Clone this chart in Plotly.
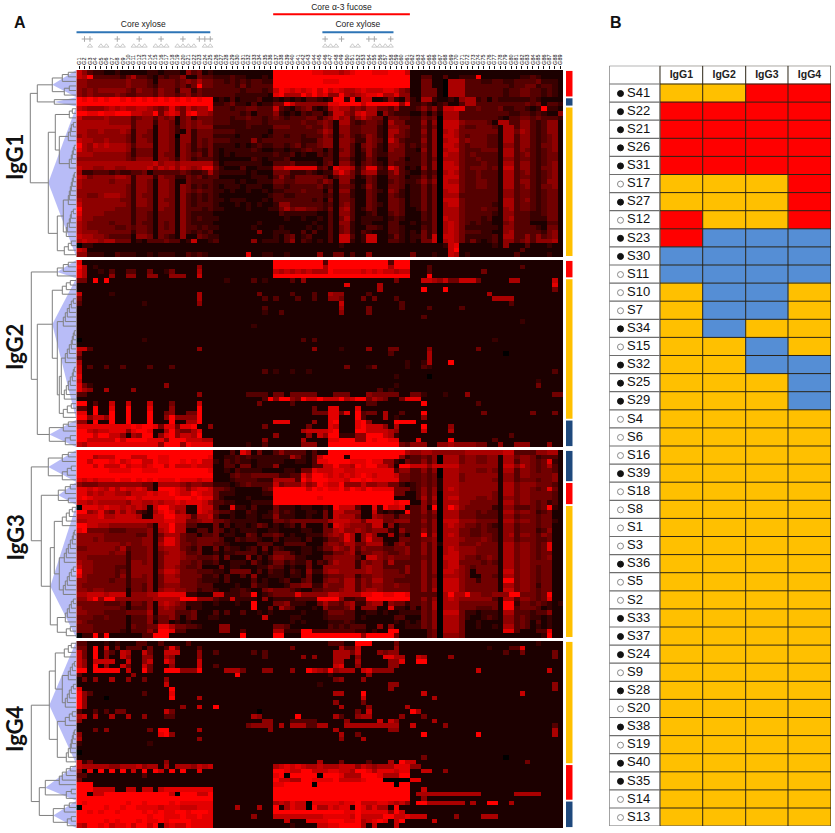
import plotly.graph_objects as go

LEAF = 0
def P(h, a, b, shade=False):
    return (h, a, b, shade)
def L(*hs, shade=False):
    n = LEAF
    for h in hs:
        n = (h, n, LEAF, False)
    return n

panel_names = ["IgG1", "IgG2", "IgG3", "IgG4"]
tick_labels = [f"G{i}" for i in range(1, 90)]

# digit = signal level 0 (black) to 9 (pure red); segments: 25 / 11 / 25 / 28 columns
igg1 = """
75322 11211 11122 12221 53412 11111111111 99999 99887 77678 99988 89997 11111 11111 11111 11111 11111 111
76933 33324 63321 32335 11433 22232211121 99999 99999 99999 99999 99999 11331 13112 22911 11111 22321 111
55444 44445 44431 44434 54644 33232323322 99999 99998 88999 99999 99999 11441 10666 33322 33223 33342 221
55444 44445 44432 44434 24944 33332423333 99999 99999 99999 99999 99999 11441 10666 33333 33323 34423 321
54545 55554 35443 54425 52433 33333233323 79878 78979 78766 78777 88754 11444 10666 33333 33233 44332 321
54544 44543 34443 54434 53433 33332222221 89666 97978 55965 67889 66855 11444 10666 33333 33233 44332 321
98989 89989 89898 98989 89899 12131222311 21212 13321 29929 17711 25215 21662 11215 66231 32222 22321 111
99999 99999 99999 99999 99999 22342213122 44975 55555 88999 97999 99959 22321 23113 66333 33333 34341 332
76555 67676 67765 45854 75669 33323344333 73213 45212 67664 54664 43522 23535 27788 33433 34223 32129 221
99889 88999 77669 47874 89665 33333231333 52121 32331 37754 78661 53222 11313 16663 33333 33322 33232 115
75555 65555 34553 54514 52444 33323343323 43233 34424 57563 57544 14433 22434 06663 33333 32133 44343 332
66666 65555 35552 55414 54544 33322233323 33333 43345 41663 23443 16442 22525 07775 44443 16633 55323 551
66666 66666 35551 55424 54555 22222232222 44433 34335 41553 34442 15544 22424 07774 33444 31663 55323 551
66556 55565 25541 55421 52444 33332222221 33333 33346 51553 34442 16643 22525 06764 44444 41664 65323 551
56555 55554 25441 55405 52444 22221222212 33233 23335 41453 23542 16443 22425 07764 34443 31663 55323 451
76655 65554 25541 55415 52434 33322225233 33333 22245 51554 22543 17532 22525 06774 54443 31663 55323 451
96576 76665 35551 55415 42434 22221212322 33234 23345 51553 14542 15542 32425 07764 34443 31553 55324 451
86566 66665 24441 55415 42324 21222223211 22122 34331 31453 13532 15442 21525 06774 33344 41663 54323 451
66655 55554 24441 54415 43424 21212222222 32231 21132 31553 12532 24442 22425 07664 34333 31663 45323 441
55555 55554 35551 55425 42333 21111113212 22311 11113 31442 12431 14431 22424 06664 33433 31553 44323 441
66666 66666 66667 56656 66666 31222222211 33342 22213 41553 13432 14332 22425 07764 33343 31663 55323 451
76655 66556 66675 76757 65688 42111311222 66888 88834 18776 24883 28631 21525 07774 34443 41773 55324 451
62233 32322 33413 33334 32236 32222212111 44422 23212 26864 25662 24632 11323 06764 33433 31663 45323 451
76455 55665 25552 54422 43423 31111112221 35324 44443 13554 12431 14431 22424 07774 33433 31663 44323 451
65555 54555 25541 55411 43333 22221211222 44334 44435 41552 11431 13432 23535 07664 33443 31663 55323 551
65555 55554 25541 55415 42323 21222122211 33233 33342 31443 12531 14431 22424 07774 33443 31663 45324 451
55555 55554 25541 55415 43433 22121121121 22333 43331 41552 11432 15421 22424 06774 33333 31553 44323 441
55445 66654 25441 55415 32323 21111111112 33223 33332 31442 11431 14321 22424 06663 33333 31553 44323 441
65555 55544 25541 54415 32323 22122211121 33333 33231 41443 11431 14431 22424 07774 33333 31663 45323 441
75555 55554 25541 55415 32333 21112121211 25533 33332 31453 11432 14431 22424 06774 33333 21663 44323 441
95555 55444 24441 54415 33323 22111121112 24645 54432 41563 12431 14431 12424 06664 33343 31563 44323 441
85555 44444 24431 44415 32222 11111111111 13222 22211 31553 11231 13431 11324 06664 33333 21553 33223 441
75544 44444 24431 44415 32322 21111111111 11211 21121 31463 12222 12321 11324 07664 33323 11563 33222 441
65444 43444 24331 43415 32222 11111111211 11111 11211 31552 12211 13311 21224 06764 32322 11453 33111 331
65444 44334 34431 43415 33232 21111112111 12111 12121 31452 11332 13321 11324 06764 22222 21553 33321 441
65554 44444 24431 44415 32323 11111111511 22211 31311 31452 13211 13321 21424 06764 33322 11563 33332 451
76655 43333 15541 43215 11432 21111111111 21341 23111 31773 12771 12421 22427 07764 22222 31663 35353 451
67665 66444 12133 34331 27112 31111115122 21351 32121 31772 12771 13321 21447 06764 24212 31553 45355 561
02211 11111 11111 11111 11111 11111111111 11111 11111 11211 11111 11111 11111 12781 11111 21511 13111 211
76111 11111 11111 11111 11111 11111111111 11111 11111 11111 11111 11111 11111 11791 11111 11111 31111 111
55222 11322 21121 22211 32321 11111181122 11211 11151 14413 11511 11111 41112 11761 21111 11113 11111 211
"""

igg2 = """
81111 11111 11111 11111 11111 11111111111 99999 99993 99999 99999 93999 11111 11111 11111 11111 11111 111
96121 11111 11111 11111 11511 11111111111 99999 99996 99999 99999 96999 11131 11111 11111 11111 31111 111
86112 13113 31141 12411 11611 11111111111 76767 67666 98888 87878 77677 11131 11111 11141 11111 11111 111
86111 15115 51155 11555 11711 11111111111 99999 99999 99999 99999 99999 11191 11111 11111 11111 11111 111
44191 91111 11111 11111 11111 11211113121 11131 51111 11111 11111 11411 11776 57447 77411 11166 11111 171
11111 11111 11111 11111 11111 11111111111 11111 11111 11181 11116 11111 11111 11111 11111 11111 11111 181
11111 11111 11111 11111 11111 11111111111 11111 11111 11111 11116 11111 11911 19111 11111 11111 11111 141
71111 12111 11111 11111 11611 11111111411 11131 11311 65511 11311 11111 11111 11111 11116 11111 11111 111
41111 11111 11111 11111 11611 11111111131 31113 11311 55411 14141 11311 11111 11111 11111 66661 11111 111
31111 11111 11211 11111 11511 11111111111 11111 11111 11711 11111 11131 11111 11111 11111 11131 11111 111
11111 11111 11111 11111 11111 11111111131 11111 11111 11611 11411 11131 11131 11113 11111 11111 11111 111
11111 11111 11111 11111 11111 11111111121 13111 11111 11511 11411 11111 11111 11111 11111 11111 11111 111
11111 11111 11111 11111 11111 11111111111 11111 11111 11111 11111 11111 11311 11111 11111 11111 11111 111
11111 11111 11111 11111 11111 11111111111 11111 11111 11111 11111 11111 11111 11111 11111 11111 21111 111
11111 11111 11111 11111 11111 11111112111 11111 11111 11111 11111 11111 11111 11111 11111 11111 11111 111
11111 11111 11111 11111 11111 11111111111 11111 11111 11111 11111 11111 11111 11111 11111 11111 11111 111
11111 11111 11111 11111 11111 11111111111 11111 11111 11111 11111 11111 11111 11111 11111 11111 11111 111
01111 11111 11211 11111 11111 11111111111 11111 31311 11111 11111 11111 11111 11111 11111 21111 11111 111
11111 11111 11111 11111 11111 11111111111 11111 11111 11111 11111 11111 11111 11111 11111 11111 11111 111
77311 11111 11111 11111 11511 11111111111 11111 11511 11211 11511 14411 11151 11111 11411 11111 11111 111
51111 11111 11111 11111 11111 11111111111 11111 11111 11111 11111 13111 11161 11111 11111 11011 11111 111
31111 11111 11111 11111 11111 11111111111 11111 11111 11111 11111 11111 11161 11111 11111 11111 11111 111
61111 11111 11111 11111 11111 11111111111 11111 11111 11111 11111 11112 11261 11911 11111 11111 11111 111
71311 31131 11131 11311 11111 11111111111 11111 11111 11141 11241 11112 11321 11111 11111 11111 11111 111
71111 11111 11111 11111 11111 11111111131 21121 12111 11111 11111 11111 11111 11111 11111 11111 11111 131
81111 11111 11111 11111 11111 11111111111 11111 11111 11111 11111 11211 11101 11111 11111 11111 11111 111
71111 11111 11111 11111 11111 11111111111 11111 11111 11111 11111 11111 11111 11111 11111 11111 11121 111
84211 11111 11111 15111 11111 11111111111 11111 11111 11111 11111 11211 11111 11111 11111 11111 11141 111
86511 61111 51111 11111 11111 11111111111 11111 11111 11111 11113 12111 11111 11111 11111 11111 11111 111
33111 11111 11111 11111 11511 11111133331 44144 44411 14441 11544 44411 44211 12111 51111 11111 11111 144
11111 11111 11111 11111 11111 11111111139 59954 97797 77967 99465 41148 88111 11111 11111 11111 11111 111
99131 17117 11171 11411 11711 11111111411 11131 11111 11111 11331 11111 11911 11111 11311 11111 11111 111
33191 18119 11181 11511 11911 11111111111 11111 11411 88111 81111 11111 11111 11111 11111 11111 11111 111
88191 19119 11191 14511 44911 11111111111 11111 11444 88481 93441 61131 11911 11111 11141 11111 11411 141
99577 59119 11191 15955 55911 11111111111 11111 11111 88111 93111 61211 11511 11111 11111 11111 11111 111
55191 19119 11191 11911 66911 11111111111 88811 11511 89111 89511 11999 91111 11111 11111 11111 11111 111
88888 88888 98998 48848 89115 11111111141 11111 14111 87111 89777 51611 11911 11511 11111 11111 11111 111
99767 78885 89981 16954 46811 11111111111 11111 67777 89111 99777 76511 11711 11611 11111 11111 11111 111
99979 97751 65991 58957 76911 11111111111 51111 15175 99222 55999 76211 11111 11111 11111 11131 11111 111
99777 77979 99988 85999 77766 11111111151 11111 61111 88999 55989 98811 18111 11911 11111 31111 11111 111
76888 88888 88888 59995 98888 11111121131 11111 55511 99999 99999 99943 55511 55655 55441 15115 55111 511
"""

igg3 = """
99999 99999 99999 99999 99999 11131861411 35333 31311 99999 99999 99996 55665 55555 66666 66773 33355 661
99967 77999 77799 88999 99998 11223232222 22264 21379 99919 99999 99952 33435 06664 55445 51664 55423 331
99799 98978 99779 88998 98977 21323221222 22112 21388 99998 88988 55214 33535 06664 55445 51663 55434 821
99979 77797 88789 97977 78777 11331441222 51111 11337 79776 98997 75199 77757 77775 55555 51775 75434 631
99999 98888 99888 99999 99998 11213222211 11221 44877 78877 88888 88355 33535 06665 55445 41663 55434 431
99999 99999 99999 99999 99999 11134334444 42233 86998 78787 89878 88744 33434 06664 55555 51553 55444 451
87878 88988 98989 88898 88788 11123333222 66663 97999 88879 98988 88844 33434 16664 55555 41553 44434 451
54445 55555 55441 66665 45544 22212343333 74555 75698 77955 57556 64421 23434 16665 55555 51664 55544 431
88787 68687 78741 99987 57887 44321111134 99999 97989 88979 87988 88444 23535 16765 55555 51664 55434 841
88676 77665 77787 88987 79877 42221111122 99999 99999 99999 99999 99441 13535 06665 55555 41664 55444 431
89877 77778 87888 88899 98988 42111121111 99999 99989 99999 99999 99111 13636 06775 55445 41554 55444 431
77676 66665 77667 67787 88875 33221112222 99999 99999 99999 99999 99899 11535 06665 54444 41664 55434 231
08887 87767 67617 99766 11877 31182213111 42221 22112 19777 31182 97781 33519 06975 44444 21553 33434 921
99568 54757 63216 89856 11876 43321132112 42321 12214 17755 51172 12119 33535 06664 44343 31664 55423 411
77778 66777 76117 79977 63667 31121122122 52221 12114 17666 41165 44244 33434 06664 44333 31553 44434 411
66777 77777 77777 78877 44566 44322222111 44344 44444 67776 64777 44555 33535 07775 55444 41664 55434 421
99776 65555 55541 77966 33111 41312212431 21231 41114 18765 55477 15133 33435 06765 44343 21553 44434 411
89444 43334 44451 67966 11331 43121222112 21111 22114 46755 65455 52153 33535 06664 43343 31553 44423 511
55555 44444 43351 46664 33133 41221143133 43121 12224 56586 15751 16131 33936 06764 43344 31563 55435 411
55545 44444 44551 58864 33444 43113233211 31222 13112 44586 15855 11144 33445 06665 44454 31553 44433 411
55555 55545 44551 68864 43444 33211111333 11333 31114 55466 44666 21453 33535 16664 44544 41664 55434 811
44555 55463 44451 56664 32411 41322123141 32111 22124 46546 35444 33445 33535 06765 55444 41664 55434 811
55555 54552 44451 45665 33411 21223333121 44421 22112 24456 24455 43345 33535 06775 55444 41664 55434 411
55444 44442 44451 46665 44333 41411151313 55442 21114 45555 31775 45444 33435 07775 44345 41664 55434 511
65544 44442 55451 46664 43422 31122214212 44232 24132 46555 25455 36333 33535 06774 44434 31664 55444 411
75544 44332 55551 46654 33411 14122111224 33121 14115 55555 25655 33335 33535 06775 43444 41664 55434 411
95544 44342 55551 57764 44333 22144441313 22132 15225 66555 55655 44435 33535 07765 41444 41774 55434 411
85444 44352 55451 46654 44422 31311315112 22122 14113 44455 24455 44443 33534 06665 41144 31664 55434 411
55444 43442 44451 46664 44322 21311113121 12311 34114 55466 35466 44333 33535 07775 44244 41994 55434 411
54444 44442 44351 45554 44333 11112114221 11244 55225 44466 35455 44544 33535 07775 44444 41664 55424 411
55455 44441 44351 56655 44233 21122321145 44432 11334 44566 35665 44444 33536 07775 44444 41774 55434 411
66777 67771 55566 88888 22111 77222339123 44448 55555 77666 68899 88998 33333 06966 95544 55599 44434 911
55795 99555 55556 66669 99555 32272222151 22223 33399 99522 33999 99999 33535 06765 55555 31663 55434 811
44444 33341 44351 67654 22211 21112119111 44522 21146 44356 22566 15442 33436 06664 44444 41992 44343 212
54444 44431 33351 56544 12211 11111119114 16431 11215 33346 15551 18221 31436 06664 44333 41993 44431 211
55444 33334 44461 55533 34111 31311311212 11111 21112 44433 11221 21122 22435 07774 22122 21663 33233 511
44433 43331 33352 44531 34112 21111111171 11122 11112 33333 12111 11331 11435 06664 21123 21553 43221 211
54333 33331 33351 44121 21111 11111111111 11121 21111 22232 11111 11212 12435 06664 11211 11553 43131 211
44433 33331 43344 88644 33211 15511111111 44311 11111 32323 33115 15112 22435 06664 11211 21663 43121 211
44433 33321 33353 99833 11111 15511311111 66222 99333 33333 22121 19911 11134 06664 11111 11883 11133 811
02292 91111 11339 99111 11111 11111911111 99111 99999 99999 95999 99411 11134 05554 11111 11111 11112 911
"""

igg4 = """
33111 21211 13311 31111 31111 11111111111 11111 11111 33311 99911 11411 11111 11111 11111 11111 11121 111
44191 71413 33141 13841 11311 11111111111 11141 11111 11633 71111 11511 11111 11111 11112 11133 81111 111
74191 53176 11741 17771 11511 31111113131 11111 11111 16664 71115 45511 11111 11111 11111 11311 41111 141
74191 51175 11551 16511 11511 11111111131 11111 51511 16661 51111 88661 17611 11511 11111 11111 11111 141
75177 77117 11571 18611 11711 11111111111 11111 11111 16611 61111 15581 19911 11111 11111 11111 11111 111
75191 51174 11741 11511 11711 31111111111 11111 11111 17811 51111 15511 11111 11111 11111 11111 11111 111
99199 99917 11941 19995 55911 11666411155 11151 19765 95666 17855 55111 11111 11111 11711 11111 11111 711
31111 11111 51111 11111 11111 11119111111 11111 11111 21111 11511 11111 11111 11111 11111 11111 11111 111
14151 16115 11411 15111 11111 11111111111 11111 11111 14511 15111 11111 11111 11111 11111 11111 11111 111
11111 11111 11111 17111 11111 11111111111 11111 11121 11111 11111 15511 11111 11111 11111 11111 11111 151
81111 11111 11111 11911 11111 11111111111 11111 11111 11111 11111 15111 11111 11111 11111 11111 11111 151
95311 11111 11311 11811 11111 11111111111 11111 11111 16611 19111 11111 11711 11111 11111 11111 71111 111
95111 01111 11111 11911 11611 11111111111 11111 11111 11111 17111 11111 11116 11111 11111 11111 11111 111
95111 11111 11111 11111 11111 11111111111 11111 11111 15111 14111 11111 11111 11111 11111 11111 11111 111
95111 11111 11111 11115 11711 91111111111 11111 11111 11611 11511 11116 11111 11111 11111 11111 11111 111
31131 31441 11111 17411 11111 11111111011 11111 11111 11111 41711 11111 96111 11111 11111 11111 11111 111
67161 16116 11511 13311 11111 11111116511 11119 11111 16311 56611 11151 11411 11111 11111 11111 11111 111
51111 11111 11111 11111 11111 11111111155 11133 33311 11151 11117 17511 11116 11111 11111 11111 11111 111
11111 11111 11111 11111 11111 11111145555 16166 63366 11166 66666 66611 71111 15111 11111 11111 11111 131
11141 51111 11141 99111 11611 11111111115 11111 11111 16111 11111 15511 11111 11111 11111 11111 11111 161
51111 11111 11111 89511 11111 11111111111 11111 11111 11611 41111 11111 11911 11111 11911 11111 11111 161
61111 11111 11111 11111 11511 11111111111 11111 11111 11511 16111 11111 11111 11111 11111 11111 11111 111
21111 11111 11121 11111 11111 11111111111 11111 11111 11111 11111 11111 11111 11111 11111 11111 11111 111
11111 11111 11111 11111 11111 11111111111 11111 11111 11111 11111 11111 11111 11111 11111 11111 11111 111
01111 11111 11111 11111 11111 11111111111 11111 11111 11111 11111 11111 11111 11111 11111 11111 11111 111
11111 11111 11111 11111 11111 11111111111 11111 11111 11111 11111 11111 11411 11111 11111 11011 11111 111
72411 11111 11111 15111 11111 11111111111 11111 11161 11411 11311 16197 71111 11111 11111 11111 14111 111
76666 65566 67566 16166 65767 11111111111 67878 76676 66777 57656 66888 55111 11111 11111 11111 11111 111
50809 19191 71919 71919 11811 11111111111 99877 99777 88776 99868 88788 11771 15111 11111 11111 11111 111
33111 11111 11311 11111 11111 11111111111 89099 99909 99866 69998 66699 11111 11111 11111 11111 11111 111
41111 11111 11111 11111 11111 11111111111 97766 99888 89777 78999 00000 88111 11111 11111 11111 11111 111
99911 11111 11111 11111 11111 11111111111 88999 99099 99999 99999 99099 11111 11111 11111 11111 11111 111
99977 77117 71771 78888 88888 11111111111 99999 99999 99999 99999 99999 11711 11111 11111 11111 11111 111
99177 99999 99999 99709 99779 11111111111 99999 99999 99999 99999 99999 16666 66666 66611 11116 66661 111
99999 99999 99999 99999 99999 11111111111 99999 99999 99999 99999 99999 11511 11111 11111 11111 11111 111
98999 99998 99899 99898 88888 11111111111 67687 70888 88788 97778 87675 19966 66666 16119 91161 11111 111
09999 89989 98888 78887 77888 11116111611 91687 70966 87881 98686 61911 11111 11111 11111 11111 11111 111
99898 99899 99898 98899 89998 11111111111 99999 99999 99988 98888 85971 11111 11111 11111 11111 11111 111
99999 99999 99989 98889 88988 11111115111 77777 77778 88887 97777 99778 77711 11151 11166 61111 11111 111
99999 89899 98988 98999 98888 11111111111 11711 18888 99988 96789 81791 11117 11111 11111 11111 11111 111
76998 97889 79979 17877 98888 11111111111 11121 11177 88999 96171 11711 11111 11111 11111 11111 11111 111
"""

group_sizes = {
    "IgG1": [("r", 6), ("b", 2), ("y", 33)],
    "IgG2": [("r", 4), ("y", 31), ("b", 6)],
    "IgG3": [("b", 7), ("r", 5), ("y", 29)],
    "IgG4": [("y", 27), ("r", 8), ("b", 6)],
}
group_colors = {"r": "#ff0000", "b": "#1f497d", "y": "#ffc000"}

dendro1 = P(46, P(39, P(24, L(8, 14), L(7, 12), True), P(22, LEAF, LEAF, True)),
            P(28, P(21, L(4, 7), P(17, L(3, 5, 6, 8), L(2, 3, 4, 5, 7))),
                  P(19, P(13, L(2, 3, 4, 5, 6, 7, 8), L(3, 5, 6, 7, 9, 10)), L(5, 8, 12)), True))
dendro2 = P(45, P(19, L(8, 13), LEAF, True),
            P(39, P(24, L(6, 10, 14),
                    P(19, L(3, 5, 7, 9, 11, 13),
                      P(17, P(15, L(2, 3, 4, 5, 7, 9, 11), L(2, 3, 4, 6, 8, 10, 12)), L(5, 9, 13))), True),
                  P(27, L(8, 13), L(6, 11), True)))
dendro3 = P(45, P(28, L(8, 14), L(5, 9, 14), True),
            P(35, P(18, L(6, 11), P(8, LEAF, LEAF), True),
                  P(26, P(22, L(4, 7, 10, 14),
                          P(17, L(2, 3, 4, 6, 8, 10, 12), L(3, 5, 7, 9, 11, 13))),
                        P(19, L(3, 5, 7, 9, 11), L(6, 10)), True)))
dendro4 = P(45, P(27, P(21, L(5, 8, 12), P(14, L(2, 4, 6, 8), L(3, 5, 7, 9, 11))),
                  P(19, L(4, 7, 11), L(2, 3, 4, 5, 6, 8, 10)), True),
            P(37, P(31, L(6, 10, 14, 17), L(5, 10), True),
                  P(23, L(7, 12), L(5, 9), True)))

xylose_plus = [1, 2, 7, 11, 15, 19, 22, 23, 24, 45, 48, 53, 54, 57]
xylose_tri = [2, 4, 5, 7, 8, 10, 11, 12, 14, 15, 16, 18, 19, 20, 21, 23, 24,
              45, 46, 47, 50, 51, 54, 55, 56, 57]
brackets = [("Core xylose", 0, 24, "#2e75b6", 32.3, 24.5),
            ("Core xylose", 45, 57.5, "#2e75b6", 32.3, 24.5),
            ("Core α-3 fucose", 36, 60.5, "#ff0000", 14.3, 7.5)]

samples = ["S41","S22","S21","S26","S31","S17","S27","S12","S23","S30","S11","S10","S7","S34",
           "S15","S32","S25","S29","S4","S6","S16","S39","S18","S8","S1","S3","S36","S5","S2",
           "S33","S37","S24","S9","S28","S20","S38","S19","S40","S35","S14","S13"]
filled = ["S41","S22","S21","S26","S31","S27","S23","S30","S34","S32","S25","S29","S39","S36",
          "S33","S37","S24","S28","S38","S40","S35"]
table_rows = ["YYRR","RRRR","RRRR","RRRR","RRRR","YYYR","YYYR","RYYR","RBBB","BBBB","BBBB","YBBY",
              "YBBY","YBYY","YYBY","YYBB","YYYB","YYYB"] + ["YYYY"] * 23

# ---------- geometry
W, H = 835, 833
hx0, hx1 = 76.3, 563
panel_y = [(70, 257), (260, 447), (450, 638), (641, 828)]
px = lambda a: a / W
py = lambda b: 1 - b / H

def parse(block):
    rows = []
    for line in block.strip().splitlines():
        s = line.replace(" ", "")
        s = s.ljust(89, s[-1])[:89]
        rows.append([int(c) for c in s])
    assert len(rows) == 41, len(rows)
    return rows

matrices = [parse(igg1), parse(igg2), parse(igg3), parse(igg4)]
dendros = [dendro1, dendro2, dendro3, dendro4]

fig = go.Figure()
layout = dict(width=W, height=H, margin=dict(l=0, r=0, t=0, b=0), showlegend=False,
              paper_bgcolor="white", plot_bgcolor="white")
shapes, annotations = [], []

def hidden(**k):
    return dict(visible=False, fixedrange=True, **k)

def walk(node, state, lines, shades):
    if node == LEAF:
        y = state["i"]
        state["i"] += 1
        return 0, y, y, y
    h, a, b, shade = node
    ha, ya, t1, _ = walk(a, state, lines, shades)
    hb, yb, _, b2 = walk(b, state, lines, shades)
    lines[0].extend([ha, h, h, hb, None])
    lines[1].extend([ya, ya, yb, yb, None])
    ym = (ya + yb) / 2
    if shade:
        shades.append((h, ym, t1 - .5, b2 + .5))
    return h, ym, t1, b2

for i, name in enumerate(panel_names):
    n = i + 1
    xa, ya = f"xaxis{n}", f"yaxis{n}"
    top, bot = panel_y[i]
    fig.add_trace(go.Heatmap(z=matrices[i], zmin=0, zmax=9,
                             colorscale=[[0, "#000000"], [1, "#ff0000"]], showscale=False,
                             xaxis=f"x{n}", yaxis=f"y{n}", hoverinfo="skip"))
    xopts = hidden(domain=[px(hx0), px(hx1)], range=[-.5, 88.5], anchor=f"y{n}")
    if i == 0:
        xopts.update(visible=True, side="top", tickmode="array", tickvals=list(range(89)),
                     ticktext=tick_labels, tickangle=-90, tickfont=dict(size=5.5, color="#000",
                     family="Liberation Sans"), ticks="outside", ticklen=3, tickcolor="#111",
                     showgrid=False, zeroline=False, showline=False)
    layout[xa] = xopts
    layout[ya] = hidden(domain=[py(bot), py(top)], range=[40.5, -.5], anchor=f"x{n}")
    # dendrogram on its own x axis, sharing the heatmap's row axis
    d = 10 + n
    layout[f"xaxis{d}"] = hidden(domain=[px(28.3), px(76.3)], range=[48, 0], anchor=f"y{n}")
    lines, shades = ([], []), []
    walk(dendros[i], {"i": 0}, lines, shades)
    for h, ym, a, b in shades:
        fig.add_trace(go.Scatter(x=[h, 0, 0, h], y=[ym, a, b, ym], mode="lines", fill="toself",
                                 fillcolor="rgba(85,95,235,0.42)", line=dict(width=0),
                                 xaxis=f"x{d}", yaxis=f"y{n}", hoverinfo="skip"))
    fig.add_trace(go.Scatter(x=lines[0], y=lines[1], mode="lines",
                             line=dict(color="#7f7f7f", width=1),
                             xaxis=f"x{d}", yaxis=f"y{n}", hoverinfo="skip"))
    # side bar on the heatmap's row axis
    r = 0
    for code, size in group_sizes[name]:
        shapes.append(dict(type="rect", xref="paper", yref=f"y{n}", x0=px(566), x1=px(572.5),
                           y0=r - .5 + .2, y1=r + size - .5 - .2, fillcolor=group_colors[code],
                           line=dict(width=0)))
        r += size
    annotations.append(dict(text=f"<b>{name}</b>", xref="paper", yref="paper", xanchor="center",
                            yanchor="middle", x=px(14.5), y=py((top + bot) / 2 - 6), showarrow=False,
                            textangle=-90, font=dict(size=22, family="Lato", color="#111")))

# top strip: markers and brackets
layout["xaxis21"] = hidden(domain=[px(hx0), px(hx1)], range=[-.5, 88.5], anchor="y21")
layout["yaxis21"] = hidden(domain=[py(50), 1], range=[50, 0], anchor="x21")
fig.add_trace(go.Scatter(x=xylose_plus, y=[39] * len(xylose_plus), mode="markers",
                         marker=dict(symbol="cross-thin", size=4, line=dict(color="#a8a8a8", width=1)),
                         xaxis="x21", yaxis="y21", hoverinfo="skip"))
fig.add_trace(go.Scatter(x=xylose_tri, y=[46] * len(xylose_tri), mode="markers",
                         marker=dict(symbol="triangle-up-open", size=4.5, color="#bdbdbd",
                                     line=dict(width=.8, color="#bdbdbd")),
                         xaxis="x21", yaxis="y21", hoverinfo="skip"))
for label, c0, c1, col, yl, yt in brackets:
    fig.add_trace(go.Scatter(x=[c0 - .5, c1], y=[yl, yl], mode="lines", line=dict(color=col, width=2),
                             xaxis="x21", yaxis="y21", hoverinfo="skip"))
    fig.add_trace(go.Scatter(x=[(c0 - .5 + c1) / 2], y=[yt], mode="text", text=[label],
                             textfont=dict(size=8.5, family="Liberation Sans", color="#222"),
                             xaxis="x21", yaxis="y21", hoverinfo="skip"))

# panel B table
col_edges = [609.3, 660, 702.7, 745.7, 788, 831]
row_edges = [65.7, 84] + [84 + 18.1 * k for k in range(1, 42)]
layout["xaxis22"] = hidden(domain=[px(col_edges[0]), px(col_edges[-1])],
                           range=[col_edges[0], col_edges[-1]], anchor="y22")
layout["yaxis22"] = hidden(domain=[py(row_edges[-1]), py(row_edges[0])],
                           range=[row_edges[-1], row_edges[0]], anchor="x22")
code = {"W": 0, "Y": 1, "R": 2, "B": 3}
z_table = [[0, 0, 0, 0, 0]] + [[0] + [code[c] for c in row] for row in table_rows]
fig.add_trace(go.Heatmap(z=z_table, x=col_edges, y=row_edges, zmin=0, zmax=3, showscale=False,
                         colorscale=[[0, "#ffffff"], [.25, "#ffffff"], [.25, "#ffc000"], [.5, "#ffc000"],
                                     [.5, "#ff0000"], [.75, "#ff0000"], [.75, "#558ed5"], [1, "#558ed5"]],
                         xaxis="x22", yaxis="y22", hoverinfo="skip"))
gx, gy = [], []
for e in row_edges:
    gx += [col_edges[1], col_edges[-1], None]
    gy += [e, e, None]
for e in col_edges[1:]:
    gx += [e, e, None]
    gy += [row_edges[0], row_edges[-1], None]
fig.add_trace(go.Scatter(x=gx, y=gy, mode="lines", line=dict(color="#2b2415", width=1),
                         xaxis="x22", yaxis="y22", hoverinfo="skip"))
gx, gy = [], []
for e in row_edges:
    gx += [col_edges[0], col_edges[1], None]
    gy += [e, e, None]
gx += [col_edges[0], col_edges[0], None]
gy += [row_edges[0], row_edges[-1], None]
fig.add_trace(go.Scatter(x=gx, y=gy, mode="lines", line=dict(color="#6e6e6e", width=1.2),
                         xaxis="x22", yaxis="y22", hoverinfo="skip"))
centers = [(row_edges[k] + row_edges[k + 1]) / 2 for k in range(1, 42)]
fig.add_trace(go.Scatter(x=[(col_edges[k] + col_edges[k + 1]) / 2 for k in range(1, 5)],
                         y=[75.3] * 4, mode="text", text=panel_names,
                         texttemplate="<b>%{text}</b>",
                         textfont=dict(size=10.5, family="Liberation Sans", color="#222"),
                         xaxis="x22", yaxis="y22", hoverinfo="skip"))
fig.add_trace(go.Scatter(x=[627] * 41, y=[c + .5 for c in centers], mode="text", text=samples,
                         textposition="middle right",
                         textfont=dict(size=13, family="Liberation Sans", color="#111"),
                         xaxis="x22", yaxis="y22", hoverinfo="skip"))
fig.add_trace(go.Scatter(x=[620.5] * 41, y=[c + .5 for c in centers], mode="markers",
                         marker=dict(size=6, color=["#111" if s in filled else "white" for s in samples],
                                     line=dict(color=["#111" if s in filled else "#888" for s in samples],
                                               width=1)),
                         xaxis="x22", yaxis="y22", hoverinfo="skip"))

for label, xp, yp in [("A", 20, 22), ("B", 615.5, 22)]:
    annotations.append(dict(text=f"<b>{label}</b>", xref="paper", yref="paper", x=px(xp), y=py(yp),
                            xanchor="center", yanchor="middle", showarrow=False,
                            font=dict(size=16, family="Liberation Sans", color="#111")))

layout["shapes"] = shapes
layout["annotations"] = annotations
fig.update_layout(**layout)
fig.write_html("out.html", config={"displayModeBar": False},
               post_script="document.body.style.margin='0';document.documentElement.style.overflow='hidden';")
